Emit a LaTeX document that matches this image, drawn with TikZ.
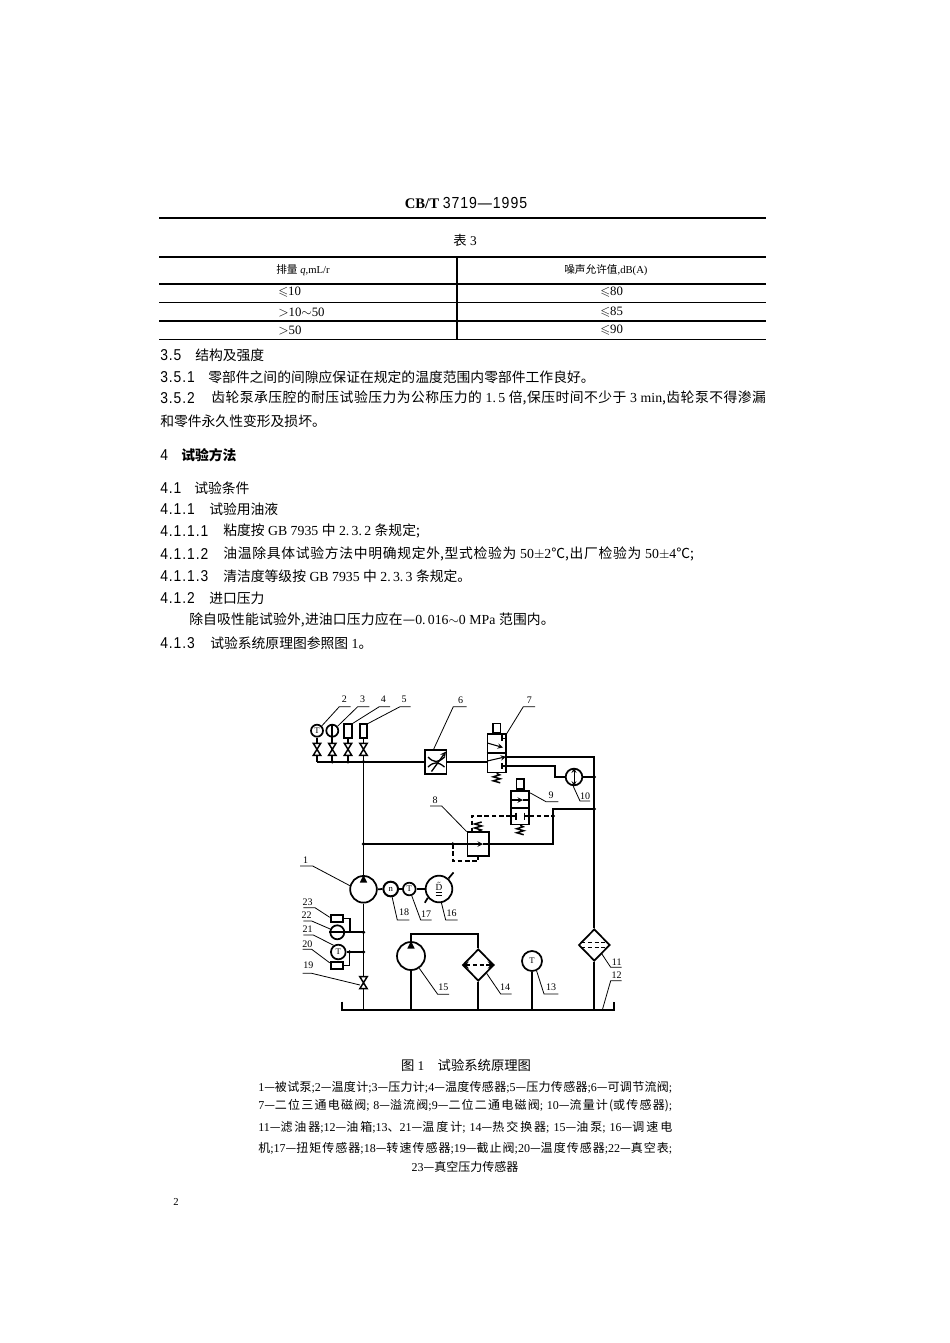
\documentclass[tikz,border=0pt]{standalone}
\usepackage{fontspec}
\usepackage{amssymb}
\usetikzlibrary{shapes.geometric}
\setmainfont{Liberation Serif}
\newfontfamily\zhfont{Noto Sans CJK SC}
\newfontfamily\secnum[FakeStretch=0.88,LetterSpace=6]{Liberation Sans}
\newcommand{\zh}[1]{{\zhfont #1}}
\newcommand{\sn}[1]{{\secnum\fontsize{11.8pt}{12pt}\selectfont #1}}
\XeTeXlinebreaklocale "zh"
\XeTeXlinebreakskip=0pt plus 3pt
\tikzset{
	body/.style={anchor=west,inner sep=0pt,font=\fontsize{10.35pt}{12pt}\selectfont},
	fitline/.style={anchor=west,inner sep=0pt,text width=#1,align=justify,execute at begin node={\parfillskip=0pt}},
	smalltxt/.style={anchor=west,inner sep=0pt,font=\fontsize{8pt}{10pt}\selectfont},
	numtxt/.style={anchor=west,inner sep=0pt,font=\fontsize{9.6pt}{10pt}\selectfont},
	numlab/.style={inner sep=0pt,font=\fontsize{7.5pt}{8pt}\selectfont},
	mainline/.style={line width=1.3pt},
	leaderline/.style={line width=.6pt},
	ruleline/.style={line width=.8pt},
	dashline/.style={line width=1.3pt,dash pattern=on 3.5pt off 2pt},
	gauge/.style={circle,draw,line width=1.3pt,inner sep=0pt,font=\fontsize{6.5pt}{7pt}\selectfont},
	vbody/.style={rectangle,draw,line width=1.3pt,inner sep=0pt},
	diamondunit/.style={diamond,draw,line width=1.3pt,inner sep=0pt,minimum width=23.5pt,minimum height=24pt},
	stopvalve/.pic={\draw[line width=1.1pt,fill=white] (-3.7,-6) -- (3.7,-6) -- (-3.7,6) -- (3.7,6) -- cycle;},
	springz/.pic={\draw[line width=1.1pt] (0,0) -- (3,1.5) -- (-3.5,3.5) -- (3.5,5.5) -- (-3.5,7.5) -- (3.5,9.5);},
}
\begin{document}
\begin{tikzpicture}[x=.75pt,y=-.75pt,>=stealth]
	\useasboundingbox (0,0) rectangle (950,1343);
	% header and table
	\node[anchor=center,inner sep=0pt] (title) at (466,203) {\fontsize{11pt}{12pt}\selectfont\textbf{CB/T} {\secnum\fontsize{12pt}{12pt}\selectfont 3719—1995}};
	\draw[line width=1.2pt] (159,218) -- (766,218);
	\node[anchor=center,inner sep=0pt] (tab3) at (465,240) {\fontsize{10pt}{12pt}\selectfont\zh{表} 3};
	\draw[line width=1.1pt] (159,257) -- (766,257) (159,339.5) -- (766,339.5);
	\draw[ruleline] (159,284) -- (766,284) (159,302.5) -- (766,302.5) (159,321) -- (766,321) (457,257) -- (457,339.5);
	\node[smalltxt] (th1) at (276,270) {\zh{排量} \textit{q},mL/r};
	\node[smalltxt] (th2) at (564,270) {\zh{噪声允许值},dB(A)};
	\node[numtxt] (c11) at (278,292) {$\leqslant$10};
	\node[numtxt] (c21) at (278,312) {$>$10$\sim$50};
	\node[numtxt] (c31) at (278,330) {$>$50};
	\node[numtxt] (c12) at (600,292) {$\leqslant$80};
	\node[numtxt] (c22t) at (600,312) {$\leqslant$85};
	\node[numtxt] (c32) at (600,330) {$\leqslant$90};
	% clauses
	\foreach \tag/\num/\xa/\xb/\y/\txt in {
		s35/3.5/160/195/355/结构及强度,
		s351/3.5.1/160/208/377/零部件之间的间隙应保证在规定的温度范围内零部件工作良好。,
		s41/4.1/160/194/488/试验条件,
		s411/4.1.1/160/209/509/试验用油液,
		s412/4.1.2/160/209/598/进口压力}{
		\node[body] (\tag n) at (\xa,\y) {\sn{\num}};
		\node[body] (\tag) at (\xb,\y) {\zh{\txt}};
	}
	\node[body] (s352n) at (160,398) {\sn{3.5.2}};
	\node[body,fitline=416pt] (s352) at (211,398) {\zh{齿轮泵承压腔的耐压试验压力为公称压力的} 1.\,5 \zh{倍,保压时间不少于} 3 min\zh{,齿轮泵不得渗漏}};
	\node[body] (s352b) at (160,421) {\zh{和零件永久性变形及损坏。}};
	\node[body] (s4n) at (160,455) {\sn{4}};
	\node[body] (s4) at (181,455) {\zhfont\bfseries 试验方法};
	\node[body] (s4111n) at (160,531) {\sn{4.1.1.1}};
	\node[body] (s4111) at (223,531) {\zh{粘度按} GB 7935 \zh{中} 2.\,3.\,2 \zh{条规定;}};
	\node[body] (s4112n) at (160,554) {\sn{4.1.1.2}};
	\node[body,fitline=353pt] (s4112) at (223,554) {\zh{油温除具体试验方法中明确规定外,型式检验为} 50$\pm$2\zh{℃,出厂检验为} 50$\pm$4\zh{℃;}};
	\node[body] (s4113n) at (160,576) {\sn{4.1.1.3}};
	\node[body] (s4113) at (223,576) {\zh{清洁度等级按} GB 7935 \zh{中} 2.\,3.\,3 \zh{条规定。}};
	\node[body,fitline=274pt] (s412b) at (189,620) {\zh{除自吸性能试验外,进油口压力应在—}0.\,016$\sim$0 MPa \zh{范围内。}};
	\node[body] (s413n) at (160,643) {\sn{4.1.3}};
	\node[body] (s413) at (210,643) {\zh{试验系统原理图参照图} 1\zh{。}};
	% gauges and sensors on the pressure line
	\node[gauge,minimum size=9pt] (g2) at (317,730.7) {T};
	\node[gauge,minimum size=9pt] (g3) at (332.3,730.7) {};
	\node[vbody,minimum width=5.6pt,minimum height=10pt] (r4) at (348,731) {};
	\node[vbody,minimum width=5.6pt,minimum height=10pt] (r5) at (363.5,731) {};
	\draw[mainline] (g3.north) -- (g3.south);
	\coordinate (j5) at (363.5,761.7);
	\coordinate (j8) at (363.5,844);
	\node[vbody,minimum width=16.2pt,minimum height=17.7pt] (tv) at (435.8,762) {};
	\node[vbody,minimum width=14pt,minimum height=28.7pt] (v7) at (496.7,753.3) {};
	\node[vbody,minimum width=5.5pt,minimum height=6.8pt,anchor=south] (v7s) at (v7.north) {};
	\foreach \comp/\x in {g2/317,g3/332.3,r4/348,r5/363.5}{
		\coordinate (sv\comp) at (\x,749.3);
		\coordinate (sb\comp) at (\x,761.7);
		\draw[mainline] (\comp) -- (sb\comp);
		\pic at (sv\comp) {stopvalve};
	}
	\draw[mainline] (sbg2) -- (tv.west |- sbg2);
	\draw[mainline] (tv.east |- sbg2) -- (v7.west |- sbg2);
	\draw[mainline] (j5) -- (j8);
	% throttle
	\draw[line width=1pt] (428,757) .. controls (434,763) and (438,763) .. (444.5,757);
	\draw[line width=1pt] (428,767) .. controls (434,761.5) and (438,761.5) .. (444.5,767);
	\draw[line width=1pt,->] (431.5,771.5) -- (446,751.5);
	% valve 7
	\pic at (v7.south) {springz};
	\draw[mainline] (v7.west) -- (v7.east);
	\draw[line width=.8pt,->] (487.3,743) -- (503,747.5);
	\draw[line width=.8pt,->] (487.3,761) -- (506,756.7);
	\draw[line width=1pt] (506,738.3) -- ++(-4,0) ++(0,-3) -- ++(0,6);
	\draw[line width=1pt] (506,766) -- ++(-4,0) ++(0,-3) -- ++(0,6);
	% return to filter and flow meter
	\node[gauge,minimum size=12.5pt] (fm) at (574,777) {};
	\draw[line width=.7pt,<->] (fm.north) -- (fm.south);
	\node[diamondunit] (filt) at (594.3,945) {};
	\coordinate (p7a) at (506,756.7);
	\coordinate (p7b) at (506,766);
	\coordinate (k10) at (555,777);
	\coordinate (ret) at (594.3,756.7);
	\coordinate (j10) at (594.3,777);
	\coordinate (j9) at (594.3,809);
	\draw[mainline] (p7a) -- (ret) -- (filt.north);
	\draw[mainline] (p7b) -| (k10) -- (fm.west);
	\draw[mainline] (fm.east) -- (j10);
	% valve 9 and relief valve 8
	\node[vbody,minimum width=13.7pt,minimum height=25pt] (v9) at (520.2,807.7) {};
	\node[vbody,minimum width=5.5pt,minimum height=7.5pt,anchor=south] (v9s) at (v9.north) {};
	\node[vbody,minimum width=16.2pt,minimum height=17.5pt] (rv) at (478.2,844) {};
	\pic at (v9.south) {springz};
	\pic[yscale=-1] at (rv.north) {springz};
	\draw[mainline] (v9.west) -- (v9.east);
	\draw[line width=.8pt,->] (511,800) -- (523,800);
	\draw[line width=.8pt] (523,800) -- (529.3,800);
	\coordinate (p9l) at (511,816);
	\coordinate (p9r) at (529.3,816);
	\draw[line width=1pt] (p9l) -- ++(5,0) ++(0,-3.5) -- ++(0,7);
	\draw[line width=1pt] (p9r) -- ++(-5,0) ++(0,-3.5) -- ++(0,7);
	\coordinate (j9b) at (553.3,816);
	\coordinate (rvout) at (553.3,844);
	\coordinate (rvp) at (471.7,832.3);
	\coordinate (j8b) at (452.7,844);
	\coordinate (d8) at (452.7,861);
	\draw[mainline] (j9) -| (rvout) -- (rv.east);
	\draw[mainline] (j8) -- (rv.west);
	\draw[dashline] (p9r) -- (j9b);
	\draw[dashline] (p9l) -| (rvp);
	\draw[dashline] (j8b) -- (d8) -| (rv.south);
	\draw[line width=.8pt,->] (467.3,844) -- (483,844);
	\draw[line width=.8pt] (483,844) -- (489,844);
	% test pump and drive
	\node[gauge,minimum size=20pt] (pump) at (363.5,889.3) {};
	\node[gauge,minimum size=11pt,line width=1.5pt] (n18) at (390.7,889) {n};
	\node[gauge,minimum size=9.5pt] (t17) at (409.3,889) {T};
	\node[gauge,minimum size=20pt] (dm) at (439,889) {\fontsize{7pt}{8pt}\selectfont$\underline{\underline{\tilde{\mathrm{D}}}}$};
	\fill (pump.north) -- ++(3.7,7.5) -- ++(-7.4,0) -- cycle;
	\draw[mainline] (j8) -- (pump.north);
	\draw[mainline] (pump.east) -- (n18.west);
	\draw[mainline] (n18.east) -- (t17.west);
	\draw[mainline] (t17.east) -- (dm.west);
	\draw[mainline] (dm.48) -- ++(5,-6);
	\draw[mainline] (dm.218) -- ++(-3,5);
	% suction side sensors
	\node[vbody,minimum width=9.5pt,minimum height=5.6pt] (r23) at (337,918.6) {};
	\node[gauge,minimum size=10.5pt] (c22) at (337.3,932.3) {};
	\node[gauge,minimum size=11pt] (c21) at (338.3,952) {T};
	\node[vbody,minimum width=9.5pt,minimum height=5.6pt] (r20) at (337,965.5) {};
	\draw[mainline] (c22.west) -- (c22.east);
	\coordinate (j22) at (363.5,932.3);
	\coordinate (j21) at (363.5,952);
	\coordinate (k23) at (350,932.3);
	\coordinate (k20) at (349.5,952);
	\draw[mainline] (c22.east) -- (j22);
	\draw[mainline] (c21.east) -- (j21);
	\draw[mainline] (r23.east) -| (k23);
	\draw[mainline] (r20.east) -| (k20);
	% tank
	\coordinate (tkl) at (341.7,1001.7);
	\coordinate (tkr) at (614.3,1001.7);
	\coordinate (tk1) at (341.7,1010);
	\coordinate (tk2) at (614.3,1010);
	\coordinate (tk12) at (602.3,1010);
	\draw[line width=1.4pt] (tkl) -- (tk1) -- (tk2) -- (tkr);
	\coordinate (v19) at (363.5,982.7);
	\coordinate (lead19) at (360,985);
	\draw[mainline] (pump.south) -- (v19 |- tk1);
	\pic at (v19) {stopvalve};
	% oil pump, heat exchanger, thermometer, filter
	\node[gauge,minimum size=21pt] (oilp) at (411,956) {};
	\fill (oilp.north) -- ++(3.7,7.5) -- ++(-7.4,0) -- cycle;
	\node[diamondunit] (hx) at (478.3,965) {};
	\node[gauge,minimum size=15pt] (tm) at (532,961) {T};
	\coordinate (c15) at (411,934);
	\draw[mainline] (oilp.north) -- (c15) -| (hx.north);
	\draw[mainline] (oilp.south) -- (oilp.south |- tk1);
	\draw[mainline] (hx.south) -- (hx.south |- tk1);
	\draw[mainline] (tm.south) -- (tm.south |- tk1);
	\draw[mainline] (filt.south) -- (filt.south |- tk1);
	\draw[line width=1.3pt,densely dashed,<->] (hx.west) -- (hx.east);
	\draw[line width=1pt,densely dashed] ([shift={(-13,-2.5)}]filt.center) -- ([shift={(13,-2.5)}]filt.center);
	\draw[line width=1pt,densely dashed] ([shift={(-13,2.5)}]filt.center) -- ([shift={(13,2.5)}]filt.center);
	% junction dots
	\foreach \j in {sbr4,j5,sbg3,j8,j8b,j9,j9b,j10,j22,j21,k20}
		\fill (\j) circle (1.9);
	% numbered leaders
	\foreach \n/\from/\kx/\ky/\len/\lx/\ly in {
		1/pump.165/312.7/866/-12.7/305.7/860,
		2/g2.45/339.3/706.7/11.4/344.3/699.3,
		3/g3.40/357.7/706.7/11.6/362.7/699.3,
		4/r4.north east/379.3/706.7/10.7/383.3/699.3,
		5/r5.north east/400/706.7/10.7/404/699.3,
		6/tv.100/453.3/706.7/13.4/460.7/700.7,
		7/v7.north east/523.3/706.7/11.7/529.3/700.7,
		8/rv.north west/441.7/806/-11.7/435/800,
		9/v9.56/546/801.7/12.3/551/795,
		10/fm.-95/580/801/10/585/796,
		11/filt.-50/610.7/967.3/11/616.7/962.3,
		12/tk12/610.7/980.7/11/616.7/975,
		13/tm.-65/544/994/14.3/551/987.7,
		14/hx.-45/500.7/994/11/505/987,
		15/oilp.-56/437.7/994.3/11.3/443.3/987.3,
		16/dm.-80/445.7/920/12/451.7/913.3,
		17/t17.-70/420.7/920/11/426/914,
		18/n18.-80/397.3/920/12/404/912.3,
		19/lead19/311.7/973.3/-9/308.3/965,
		20/r20.160/311.7/949.3/-9/307.3/944.5,
		21/c21.125/313.3/935/-10/307.7/929.5,
		22/c22.155/311.7/921/-8.4/306.7/915.5,
		23/r23.170/315/907.7/-11.7/307.7/902.3}{
		\node[numlab] (lab\n) at (\lx,\ly) {\n};
		\draw[leaderline] (\from) -- (\kx,\ky) -- ++(\len,0);
	}
	% caption and key
	\node[anchor=center,inner sep=0pt] (figcap) at (466,1065) {\fontsize{10pt}{12pt}\selectfont\zh{图} 1\quad\zh{试验系统原理图}};
	\node[smalltxt,font=\fontsize{9pt}{11pt}\selectfont,fitline=310.5pt] (key1) at (258,1087) {1\zh{—被试泵};2\zh{—温度计};3\zh{—压力计};4\zh{—温度传感器};5\zh{—压力传感器};6\zh{—可调节流阀};};
	\node[smalltxt,font=\fontsize{9pt}{11pt}\selectfont,fitline=310.5pt] (key2) at (258,1106) {7\zh{—二位三通电磁阀}; 8\zh{—溢流阀};9\zh{—二位二通电磁阀}; 10\zh{—流量计(或传感器)};};
	\node[smalltxt,font=\fontsize{9pt}{11pt}\selectfont,fitline=310.5pt] (key3) at (258,1127) {11\zh{—滤油器};12\zh{—油箱};13\zh{、}21\zh{—温度计}; 14\zh{—热交换器}; 15\zh{—油泵}; 16\zh{—调速电}};
	\node[smalltxt,font=\fontsize{9pt}{11pt}\selectfont,fitline=310.5pt] (key4) at (258,1148) {\zh{机};17\zh{—扭矩传感器};18\zh{—转速传感器};19\zh{—截止阀};20\zh{—温度传感器};22\zh{—真空表};};
	\node[smalltxt,font=\fontsize{9pt}{11pt}\selectfont,anchor=center] (key5) at (465,1167) {23\zh{—真空压力传感器}};
	\node[smalltxt,anchor=center] (pageno) at (176,1202) {2};
\end{tikzpicture}
\end{document}
